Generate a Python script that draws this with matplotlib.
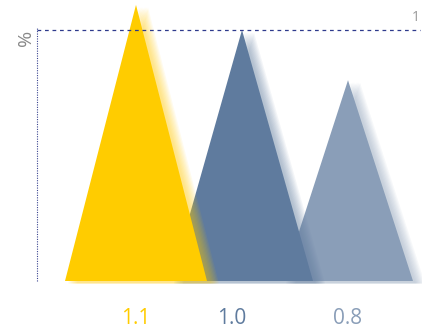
import matplotlib
matplotlib.use("Agg")
import matplotlib.pyplot as plt
from matplotlib.patches import Polygon
import numpy as np

categories = ["1.1", "1.0", "0.8"]
values = [1.1, 1.0, 0.8]
colors = ["#FFCC00", "#5F7B9E", "#8A9EB8"]
label_x_offsets = [0.0, -0.1, 0.0]
ref_value = 1.0
ref_label = "1"

W, H = 422, 332
fig = plt.figure(figsize=(W / 100, H / 100), dpi=100)
px_left, px_right, px_top, px_base = 37, 420, 0, 281
ax = fig.add_axes([px_left / W, (H - px_base) / H, (px_right - px_left) / W, (px_base - px_top) / H])

unit_px_x = 106.0
unit_px_y = 251.0
x0_px = 136.0
ax.set_xlim(-(x0_px - px_left) / unit_px_x, (px_right - x0_px) / unit_px_x)
ax.set_ylim(0, (px_base - px_top) / unit_px_y)
ax.axis("off")

half_widths = [71 / unit_px_x, 71 / unit_px_x, 65 / unit_px_x]
n_layers = 8
for i in reversed(range(len(values))):
    v = values[i]
    c = colors[i]
    hw = half_widths[i]
    # blurred shadow
    for k, dx in enumerate(np.linspace(3, 12, n_layers)):
        ox = dx / unit_px_x
        oy = -2.5 / unit_px_y
        poly = Polygon([(i - hw + ox, 0 + oy), (i + ox, v + oy), (i + hw + ox, 0 + oy)],
                       closed=True, facecolor=c, edgecolor="none", alpha=0.07, clip_on=False)
        ax.add_patch(poly)
    poly = Polygon([(i - hw, 0), (i, v), (i + hw, 0)], closed=True,
                   facecolor=c, edgecolor="none", clip_on=False)
    ax.add_patch(poly)

# reference line
xl = ax.get_xlim()
ax.plot([xl[0], xl[1]], [ref_value, ref_value], color="#2E3A8C", lw=0.9,
        dashes=(3, 3), clip_on=False)
ax.text(xl[1] - 4 / unit_px_x, ref_value + 5 / unit_px_y, ref_label, color="#999999",
        fontsize=10, ha="center", va="bottom", family="Open Sans")
# y axis
ax.plot([xl[0], xl[0]], [0, ref_value + 2 / unit_px_y], color="#3A4490", lw=0.8,
        dashes=(1, 1.2), clip_on=False)
ax.text(xl[0] - 11 / unit_px_x, ref_value - 8 / unit_px_y, "%", color="#888888",
        fontsize=14, rotation=90, ha="center", va="center", family="Open Sans")

# category labels
for i, (lab, c) in enumerate(zip(categories, colors)):
    ax.text(i + label_x_offsets[i], -37 / unit_px_y, lab, color=c, fontsize=15,
            ha="center", va="center", family="Open Sans")

fig.savefig("out.png", dpi=100)
